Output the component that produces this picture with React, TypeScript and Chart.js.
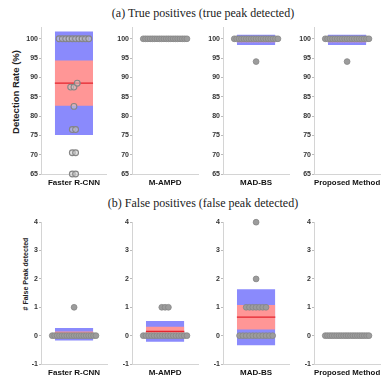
import React, { useEffect, useRef } from "react";
import { Chart, registerables } from "chart.js";

Chart.register(...registerables);

// ---------- data ----------
const methods = ["Faster R-CNN", "M-AMPD", "MAD-BS", "Proposed Method"];

const truePositiveTicks = [65, 70, 75, 80, 85, 90, 95, 100];
const falsePositiveTicks = [-1, 0, 1, 2, 3, 4];

const tpFasterRCNN = [100, 100, 100, 100, 100, 100, 100, 100, 100, 100, 88.5, 87.5, 87.5, 82.5, 76.5, 76.5, 70.5, 70.5, 65, 65];
const tpMAMPD = [100, 100, 100, 100, 100, 100, 100, 100, 100, 100, 100, 100, 100, 100, 100, 100, 100, 100, 100, 100];
const tpMADBS = [100, 100, 100, 100, 100, 100, 100, 100, 100, 100, 100, 100, 100, 100, 100, 100, 100, 100, 100, 94.1];
const tpProposed = [100, 100, 100, 100, 100, 100, 100, 100, 100, 100, 100, 100, 100, 100, 100, 100, 100, 100, 100, 94.1];

const fpFasterRCNN = [0, 0, 0, 0, 0, 0, 0, 0, 0, 0, 0, 0, 0, 0, 0, 0, 0, 0, 0, 1];
const fpMAMPD = [0, 0, 0, 0, 0, 0, 0, 0, 0, 0, 0, 0, 0, 0, 0, 0, 0, 1, 1, 1];
const fpMADBS = [0, 0, 0, 0, 0, 0, 0, 0, 0, 0, 0, 1, 1, 1, 1, 1, 1, 1, 2, 4];
const fpProposed = [0, 0, 0, 0, 0, 0, 0, 0, 0, 0, 0, 0, 0, 0, 0, 0, 0, 0, 0, 0];

const titleA = "(a) True positives (true peak detected)";
const titleB = "(b) False positives (false peak detected)";
const yTitleA = "Detection Rate (%)";
const yTitleB = "# False Peak detected";

// ---------- helpers ----------
function stats(values: number[]) {
  const n = values.length;
  const mean = values.reduce((a, b) => a + b, 0) / n;
  const sd = Math.sqrt(values.reduce((a, b) => a + (b - mean) * (b - mean), 0) / (n - 1));
  const ci = (1.96 * sd) / Math.sqrt(n);
  return { mean, sd, ci };
}

function spread(values: number[], tol: number, step: number, maxHalf: number) {
  const sorted = [...values].sort((a, b) => a - b);
  const out: { x: number; y: number }[] = [];
  let i = 0;
  while (i < sorted.length) {
    let j = i;
    while (j + 1 < sorted.length && sorted[j + 1] - sorted[i] <= tol) j++;
    const n = j - i + 1;
    const half = Math.min(((n - 1) * step) / 2, maxHalf);
    for (let k = 0; k < n; k++) {
      const x = n === 1 ? 0 : -half + (k * 2 * half) / (n - 1);
      out.push({ x, y: sorted[i + k] });
    }
    i = j + 1;
  }
  return out;
}

const SANS = "'Liberation Sans', Arial, sans-serif";
const SERIF = "'Liberation Serif', 'Times New Roman', serif";

type PanelProps = {
  values: number[];
  ticks: number[];
  min: number;
  max: number;
  label: string;
  left: number;
  top: number;
  areaH: number;
  tol: number;
  hollow?: boolean;
};

const Y_W = 28;
const AREA_W = 67;
const PAD_T = 5;
const PAD_R = 4;
const X_H = 14;

function Panel({ values, ticks, min, max, label, left, top, areaH, tol, hollow }: PanelProps) {
  const ref = useRef<HTMLCanvasElement>(null);
  const width = Y_W + AREA_W + PAD_R;
  const height = PAD_T + areaH + X_H;
  useEffect(() => {
    if (!ref.current) return;
    const { mean, sd, ci } = stats(values);
    const pts = spread(values, tol, 0.1, 0.66);
    const bx = 0.58;
    const band = (y: number) => [
      { x: -bx, y },
      { x: bx, y },
    ];
    const clear = "rgba(0,0,0,0)";
    const chart = new Chart(ref.current, {
      type: "scatter",
      data: {
        datasets: [
          {
            type: "scatter",
            data: pts,
            pointRadius: 2.9,
            pointBackgroundColor: hollow ? "rgba(200,200,200,0.55)" : "#9c9c9c",
            pointBorderColor: "#858585",
            pointBorderWidth: hollow ? 1.1 : 0.8,
            clip: false,
          } as any,
          {
            type: "line",
            data: band(mean),
            borderColor: "rgb(228,35,45)",
            borderWidth: 1.2,
            pointRadius: 0,
            fill: false,
          },
          {
            type: "line",
            data: band(mean + ci),
            borderColor: clear,
            borderWidth: 0,
            pointRadius: 0,
            fill: "+1",
            backgroundColor: "rgb(255,150,150)",
          },
          {
            type: "line",
            data: band(mean - ci),
            borderColor: clear,
            borderWidth: 0,
            pointRadius: 0,
            fill: false,
          },
          {
            type: "line",
            data: band(mean + sd),
            borderColor: clear,
            borderWidth: 0,
            pointRadius: 0,
            fill: "+1",
            backgroundColor: "rgb(138,138,252)",
          },
          {
            type: "line",
            data: band(mean - sd),
            borderColor: clear,
            borderWidth: 0,
            pointRadius: 0,
            fill: false,
          },
        ],
      },
      options: {
        animation: false,
        responsive: false,
        events: [],
        layout: { padding: { top: PAD_T, right: PAD_R, left: 0, bottom: 0 } },
        plugins: { legend: { display: false }, tooltip: { enabled: false } },
        scales: {
          x: {
            type: "linear",
            min: -1,
            max: 1,
            ticks: { display: false },
            grid: { display: false },
            border: { display: true, color: "#d4d4d4" },
            title: {
              display: true,
              text: label,
              color: "#111",
              padding: 0,
              font: { family: SANS, weight: "bold", size: 8 },
            },
            afterFit: (s: any) => {
              s.height = X_H;
            },
          },
          y: {
            type: "linear",
            min,
            max,
            afterBuildTicks: (s: any) => {
              s.ticks = ticks.map((v) => ({ value: v }));
            },
            ticks: {
              color: "#333",
              padding: 1,
              font: { family: SANS, weight: "bold", size: 7 },
            },
            grid: { drawOnChartArea: false, tickLength: 2, color: "#bbb" },
            border: { display: true, color: "#d4d4d4" },
            afterFit: (s: any) => {
              s.width = Y_W;
            },
          },
        },
      } as any,
    });
    return () => chart.destroy();
  }, []);
  return (
    <canvas
      ref={ref}
      width={width}
      height={height}
      style={{ position: "absolute", left: left - Y_W, top: top - PAD_T, width, height }}
    />
  );
}

const areaLefts = [41, 132, 223, 314];

export default function App() {
  const tpSets = [tpFasterRCNN, tpMAMPD, tpMADBS, tpProposed];
  const fpSets = [fpFasterRCNN, fpMAMPD, fpMADBS, fpProposed];
  return (
    <div
      style={{
        position: "absolute",
        left: 0,
        top: 0,
        width: 385,
        height: 384,
        background: "#fff",
        overflow: "hidden",
      }}
    >
      <div
        style={{
          position: "absolute",
          left: 203,
          top: 13,
          transform: "translate(-50%,-50%)",
          whiteSpace: "nowrap",
          fontFamily: SERIF,
          fontSize: 12,
          color: "#222",
        }}
      >
        {titleA}
      </div>
      <div
        style={{
          position: "absolute",
          left: 203,
          top: 203,
          transform: "translate(-50%,-50%)",
          whiteSpace: "nowrap",
          fontFamily: SERIF,
          fontSize: 12,
          color: "#222",
        }}
      >
        {titleB}
      </div>
      <div
        style={{
          position: "absolute",
          left: 15,
          top: 92,
          transform: "translate(-50%,-50%) rotate(-90deg)",
          whiteSpace: "nowrap",
          fontFamily: SANS,
          fontWeight: "bold",
          fontSize: 9.5,
          color: "#222",
        }}
      >
        {yTitleA}
      </div>
      <div
        style={{
          position: "absolute",
          left: 25,
          top: 274,
          transform: "translate(-50%,-50%) rotate(-90deg)",
          whiteSpace: "nowrap",
          fontFamily: SANS,
          fontWeight: "bold",
          fontSize: 7,
          color: "#222",
        }}
      >
        {yTitleB}
      </div>
      {tpSets.map((vals, i) => (
        <Panel
          key={"tp" + i}
          values={vals}
          ticks={truePositiveTicks}
          min={65}
          max={103}
          label={methods[i]}
          left={areaLefts[i]}
          top={27}
          areaH={147}
          tol={1.5}
          hollow={i === 0}
        />
      ))}
      {fpSets.map((vals, i) => (
        <Panel
          key={"fp" + i}
          values={vals}
          ticks={falsePositiveTicks}
          min={-1}
          max={4}
          label={methods[i]}
          left={areaLefts[i]}
          top={222}
          areaH={142}
          tol={0.1}
        />
      ))}
    </div>
  );
}
